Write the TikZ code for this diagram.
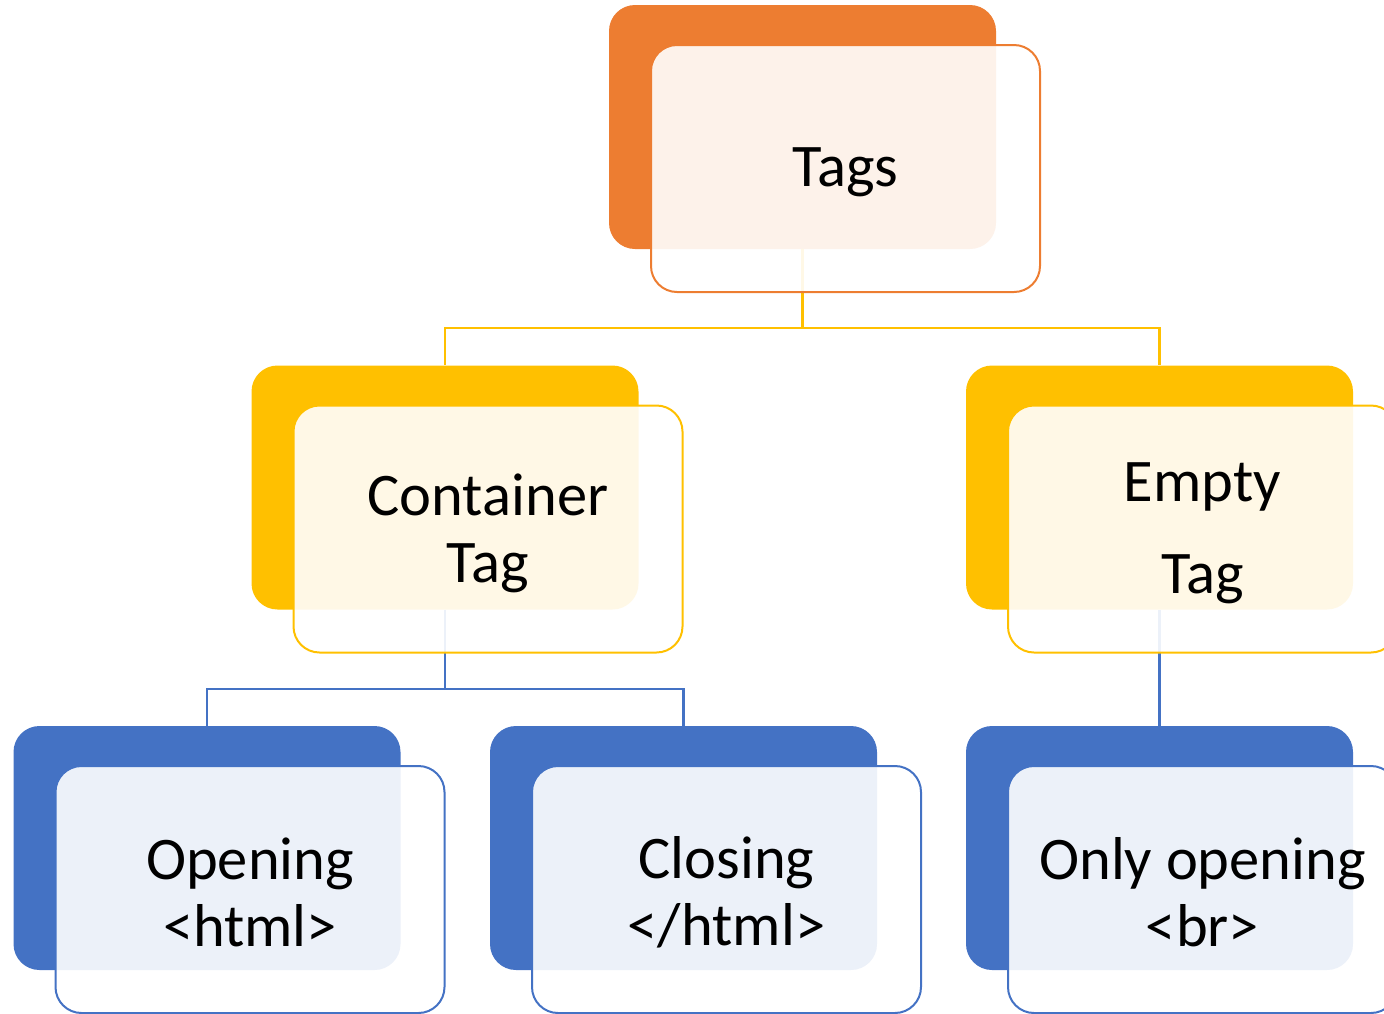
\documentclass[tikz,border=0pt]{standalone}
\usepackage{fontspec}
\setmainfont{Carlito}
\definecolor{accOrange}{HTML}{ED7D31}
\definecolor{accYellow}{HTML}{FFC000}
\definecolor{accBlue}{HTML}{4472C4}
\begin{document}
\begin{tikzpicture}[x=1pt,y=-1pt,
  backcard/.style={fill=#1, draw=none, rounded corners=26pt,
    minimum width=387pt, minimum height=244pt, inner sep=0pt},
  frontcard/.style={draw=#1, line width=2pt, fill=white, fill opacity=0.9,
    draw opacity=1, rounded corners=26pt,
    minimum width=389pt, minimum height=247pt, inner sep=0pt},
  cardtext/.style={align=center, inner sep=0pt,
    font=\fontsize{60.5}{67}\selectfont},
  link/.style={draw=#1, line width=2.5pt}]
\useasboundingbox (0,0) rectangle (1384,1013);
\clip (0,0) rectangle (1384,1013);

% solid back cards
\node[backcard=accOrange] (tagsB)  at (802.5,127)  {};
\node[backcard=accYellow] (contB)  at (445,487.5)  {};
\node[backcard=accYellow] (emptyB) at (1159.5,487.5) {};
\node[backcard=accBlue]   (openB)  at (207,848)    {};
\node[backcard=accBlue]   (closeB) at (683.5,848)  {};
\node[backcard=accBlue]   (onlyB)  at (1159.5,848) {};

% connectors run behind the translucent front cards
\coordinate (busTop) at (0,328);
\coordinate (busMid) at (0,689);
\draw[link=accYellow] (tagsB.south) -- (tagsB.south |- busTop) -| (contB.north);
\draw[link=accYellow] (tagsB.south |- busTop) -| (emptyB.north);
\draw[link=accBlue] (contB.south) -- (contB.south |- busMid) -| (openB.north);
\draw[link=accBlue] (contB.south |- busMid) -| (closeB.north);
\draw[link=accBlue] (emptyB.south) -- (onlyB.north);

% translucent front cards
\node[frontcard=accOrange] (tagsF)  at (845.5,168.5) {};
\node[frontcard=accYellow] (contF)  at (488,529)     {};
\node[frontcard=accYellow] (emptyF) at (1202.5,529)  {};
\node[frontcard=accBlue]   (openF)  at (250,889.5)   {};
\node[frontcard=accBlue]   (closeF) at (726.5,889.5) {};
\node[frontcard=accBlue]   (onlyF)  at (1202.5,889.5) {};

% card labels
\node[cardtext] (tagsT)  at ([yshift=-4pt]tagsF.center)  {Tags};
\node[cardtext] (contT)  at ([yshift=-4pt]contF.center)  {Container\\Tag};
\node[cardtext] (emptyT) at ([yshift=-4pt]emptyF.center) {Empty\\[25pt]Tag};
\node[cardtext] (openT)  at ([yshift=-3pt]openF.center)  {Opening\\<html>};
\node[cardtext] (closeT) at ([yshift=-3pt]closeF.center) {Closing\\</html>};
\node[cardtext] (onlyT)  at ([yshift=-3pt]onlyF.center)  {Only opening\\<br>};
\end{tikzpicture}
\end{document}
